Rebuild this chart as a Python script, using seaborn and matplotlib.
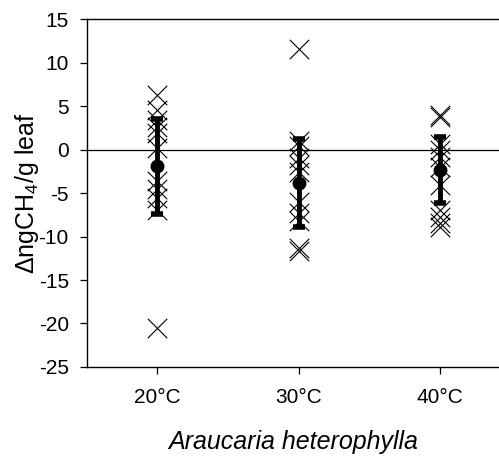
import numpy as np
import pandas as pd
import matplotlib
matplotlib.use("Agg")
import matplotlib.pyplot as plt
import seaborn as sns

categories = ["20°C", "30°C", "40°C"]
vals_20 = [6.3, 4.5, 3.4, 2.6, 1.9, 0.2, -3.6, -4.5, -5.6, -7.0, -20.5]
vals_30 = [11.6, 1.0, 0.4, -1.0, -1.8, -2.6, -6.0, -7.3, -8.2, -11.3, -11.7]
vals_40 = [4.0, 3.7, 0.7, 0.0, -0.8, -2.0, -4.1, -7.0, -7.8, -8.4, -8.9]
means = [-1.9, -3.8, -2.3]
errs = [5.45, 5.05, 3.8]
yticks = [15, 10, 5, 0, -5, -10, -15, -20, -25]

sns.set_style("ticks")
plt.rcParams["font.family"] = ["Liberation Sans", "DejaVu Sans"]
plt.rcParams["mathtext.fontset"] = "custom"
plt.rcParams["mathtext.rm"] = "Liberation Sans"
plt.rcParams["text.color"] = "black"
plt.rcParams["axes.labelcolor"] = "black"

df = pd.DataFrame({
    "temp": [categories[0]] * len(vals_20) + [categories[1]] * len(vals_30) + [categories[2]] * len(vals_40),
    "value": vals_20 + vals_30 + vals_40,
})

fig = plt.figure(figsize=(4.99, 4.57), dpi=100)
ax = fig.add_axes([0.174, 0.197, 0.826, 0.761])

ax.axhline(0, color="black", lw=0.9, zorder=1)
sns.stripplot(data=df, x="temp", y="value", order=categories, marker="x",
              jitter=False, color="black", size=14, linewidth=0.8, ax=ax, zorder=2)
ax.errorbar(range(len(categories)), means, yerr=errs, fmt="o", color="black",
            ms=9, elinewidth=3.5, capsize=4.5, capthick=4, zorder=3)

ax.set_xlim(-0.5, 2.42)
ax.set_ylim(-25, 15)
ax.set_yticks(yticks)
ax.set_yticklabels([str(t) for t in yticks])
ax.tick_params(axis="both", labelsize=15, direction="out", length=5, width=0.9,
               colors="black", labelcolor="black")
ax.tick_params(axis="y", pad=8)
ax.tick_params(axis="x", pad=10)
for s in ["left", "bottom", "top"]:
    ax.spines[s].set_linewidth(1.0)
    ax.spines[s].set_color("black")
ax.spines["right"].set_visible(False)

ax.set_xlabel("Araucaria heterophylla", fontsize=18, fontstyle="italic", labelpad=17)
ax.set_ylabel(r"$\Delta$ngCH$_{4}$/g leaf", fontsize=18, labelpad=-2)

fig.savefig("out.png", dpi=100)
